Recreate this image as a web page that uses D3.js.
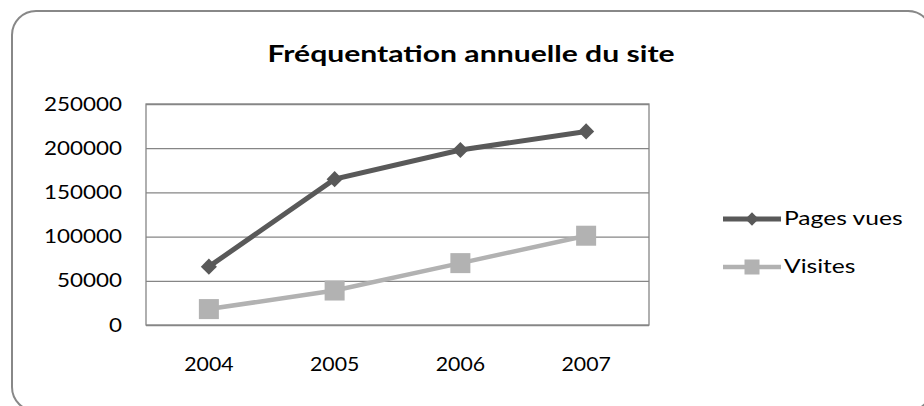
<!DOCTYPE html>
<html><head><meta charset="utf-8">
<script src="https://cdn.jsdelivr.net/npm/d3@7/dist/d3.min.js"></script>
<style>body{margin:0;background:#fff}</style>
</head><body>
<script>
const categories = ["2004", "2005", "2006", "2007"];
const pagesVues = [66000, 165000, 198000, 219000];
const visites = [18000, 39000, 70000, 101000];
const yTicks = [0, 50000, 100000, 150000, 200000, 250000];
const seriesNames = ["Pages vues", "Visites"];
const title = "Fréquentation annuelle du site";

const W = 924, H = 406;
const font = "Lato, 'Open Sans', sans-serif";
const svg = d3.select("body").append("svg").attr("width", W).attr("height", H);

svg.append("rect").attr("x", 12).attr("y", 11).attr("width", 920).attr("height", 400)
  .attr("rx", 24).attr("fill", "#fff").attr("stroke", "#888").attr("stroke-width", 2);

const m = {left: 146, right: 649, top: 104, bottom: 325};
const x = d3.scaleBand().domain(categories).range([m.left, m.right]);
const y = d3.scaleLinear().domain([0, 250000]).range([m.bottom, m.top]);

const SX = 1.18;

svg.append("text").attr("transform", `translate(471,62) scale(1.31,1)`).attr("text-anchor", "middle")
  .attr("font-family", font).attr("font-weight", "bold").attr("font-size", 23)
  .attr("fill", "#000").text(title);

// gridlines
const grid = svg.append("g").attr("transform", `translate(${m.left},0)`)
  .call(d3.axisLeft(y).tickValues(yTicks).tickSize(-(m.right - m.left)).tickFormat(""));
grid.select(".domain").remove();
grid.selectAll("line").attr("stroke", "#868686").attr("stroke-width", 1.3);

// plot border
svg.append("rect").attr("x", m.left).attr("y", m.top).attr("width", m.right - m.left)
  .attr("height", m.bottom - m.top).attr("fill", "none").attr("stroke", "#868686").attr("stroke-width", 1.3);

// y labels
const ya = svg.append("g").attr("transform", `translate(${m.left},0)`)
  .call(d3.axisLeft(y).tickValues(yTicks).tickSize(0).tickPadding(24 / SX).tickFormat(d3.format("d")));
ya.select(".domain").remove();
ya.selectAll("text").attr("font-family", font).attr("font-size", 19).attr("fill", "#000")
  .attr("transform", `scale(${SX},1)`);

// x labels
const xa = svg.append("g").attr("transform", `translate(0,${m.bottom})`)
  .call(d3.axisBottom(x).tickSize(0).tickPadding(33));
xa.select(".domain").remove();
xa.selectAll("text").attr("font-family", font).attr("font-size", 19).attr("fill", "#000")
  .attr("transform", `scale(1.12,1)`);

const cx = d => x(d) + x.bandwidth() / 2;
const line = d3.line().x((d, i) => cx(categories[i])).y(d => y(d));

const dark = "#595959", light = "#b2b2b2";

svg.append("path").datum(visites).attr("d", line).attr("fill", "none")
  .attr("stroke", light).attr("stroke-width", 4.5);
svg.selectAll(".sq").data(visites).enter().append("rect")
  .attr("x", (d, i) => cx(categories[i]) - 10).attr("y", d => y(d) - 10)
  .attr("width", 20).attr("height", 20).attr("fill", light);

svg.append("path").datum(pagesVues).attr("d", line).attr("fill", "none")
  .attr("stroke", dark).attr("stroke-width", 5);
const diamond = d3.symbol().type(d3.symbolDiamond2).size(165);
svg.selectAll(".dm").data(pagesVues).enter().append("path")
  .attr("d", diamond).attr("transform", (d, i) => `translate(${cx(categories[i])},${y(d)})`)
  .attr("fill", dark);

// legend
const lg = svg.append("g");
const items = [{name: seriesNames[0], c: dark, sym: "d", y: 219}, {name: seriesNames[1], c: light, sym: "s", y: 267}];
items.forEach(it => {
  lg.append("line").attr("x1", 723).attr("x2", 781).attr("y1", it.y).attr("y2", it.y)
    .attr("stroke", it.c).attr("stroke-width", it.sym === "d" ? 5 : 4.5);
  if (it.sym === "d") {
    lg.append("path").attr("d", d3.symbol().type(d3.symbolDiamond2).size(112))
      .attr("transform", `translate(752,${it.y})`).attr("fill", it.c);
  } else {
    lg.append("rect").attr("x", 744.5).attr("y", it.y - 7.5).attr("width", 15).attr("height", 15).attr("fill", it.c);
  }
  lg.append("text").attr("transform", `translate(784,${it.y + 6}) scale(1.23,1)`).attr("font-family", font)
    .attr("font-size", 20).attr("fill", "#000").text(it.name);
});
</script>
</body></html>
